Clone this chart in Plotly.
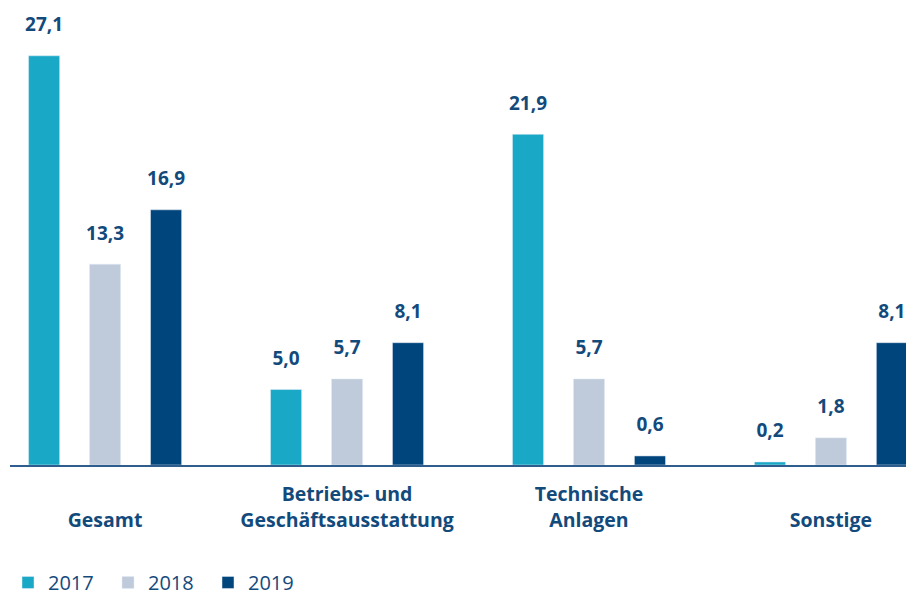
import plotly.graph_objects as go

categories = ['Gesamt', 'Betriebs- und<br>Geschäftsausstattung', 'Technische<br>Anlagen', 'Sonstige']
years = ['2017', '2018', '2019']
v2017 = [27.1, 5.0, 21.9, 0.2]
v2018 = [13.3, 5.7, 5.7, 1.8]
v2019 = [16.9, 8.1, 0.6, 8.1]

colors = ['#1aa8c7', '#bfcadb', '#00457c']
text_color = '#134a7c'

# labels bottom-aligned: single-line categories get an empty first line
tick_text = [c if '<br>' in c else '<br>' + c for c in categories]
tick_text = ['<b>' + t + '</b>' for t in tick_text]

fig = go.Figure()
for name, vals, col in zip(years, [v2017, v2018, v2019], colors):
    fig.add_trace(go.Bar(x=categories, y=vals, name=name, marker_color=col))
# value labels: grouped scatter text, lifted by an invisible marker
for name, vals in zip(years, [v2017, v2018, v2019]):
    fig.add_trace(go.Scatter(
        x=categories, y=vals, mode='markers+text', showlegend=False, hoverinfo='skip',
        marker=dict(size=30, opacity=0),
        text=['<b>' + f'{v:.1f}'.replace('.', ',') + '</b>' for v in vals],
        textposition='top center',
        textfont=dict(size=19, color=text_color, family='Open Sans'),
        cliponaxis=False,
    ))

# page body has an 8px margin, so the figure is sized to the visible area
fig.update_layout(
    barmode='group', bargap=0.244, bargroupgap=0.49, scattermode='group',
    width=906, height=588, plot_bgcolor='white', paper_bgcolor='white',
    margin=dict(l=2, r=2, t=4, b=131),
    font=dict(family='Open Sans', color=text_color, size=19),
    legend=dict(orientation='h', xref='container', yref='container', x=0, y=0.023,
                xanchor='left', yanchor='middle',
                font=dict(size=20, color=text_color), entrywidth=55, itemwidth=30),
)
fig.update_xaxes(range=[-0.393, 3.335], tickmode='array', tickvals=categories, ticktext=tick_text,
                 showline=True, linecolor='#2f5e8e', linewidth=2, showgrid=False,
                 tickfont=dict(size=19.5, color=text_color), ticklabelstandoff=11)
fig.update_yaxes(range=[0, 30], visible=False, showgrid=False)
fig.write_html('out.html')
